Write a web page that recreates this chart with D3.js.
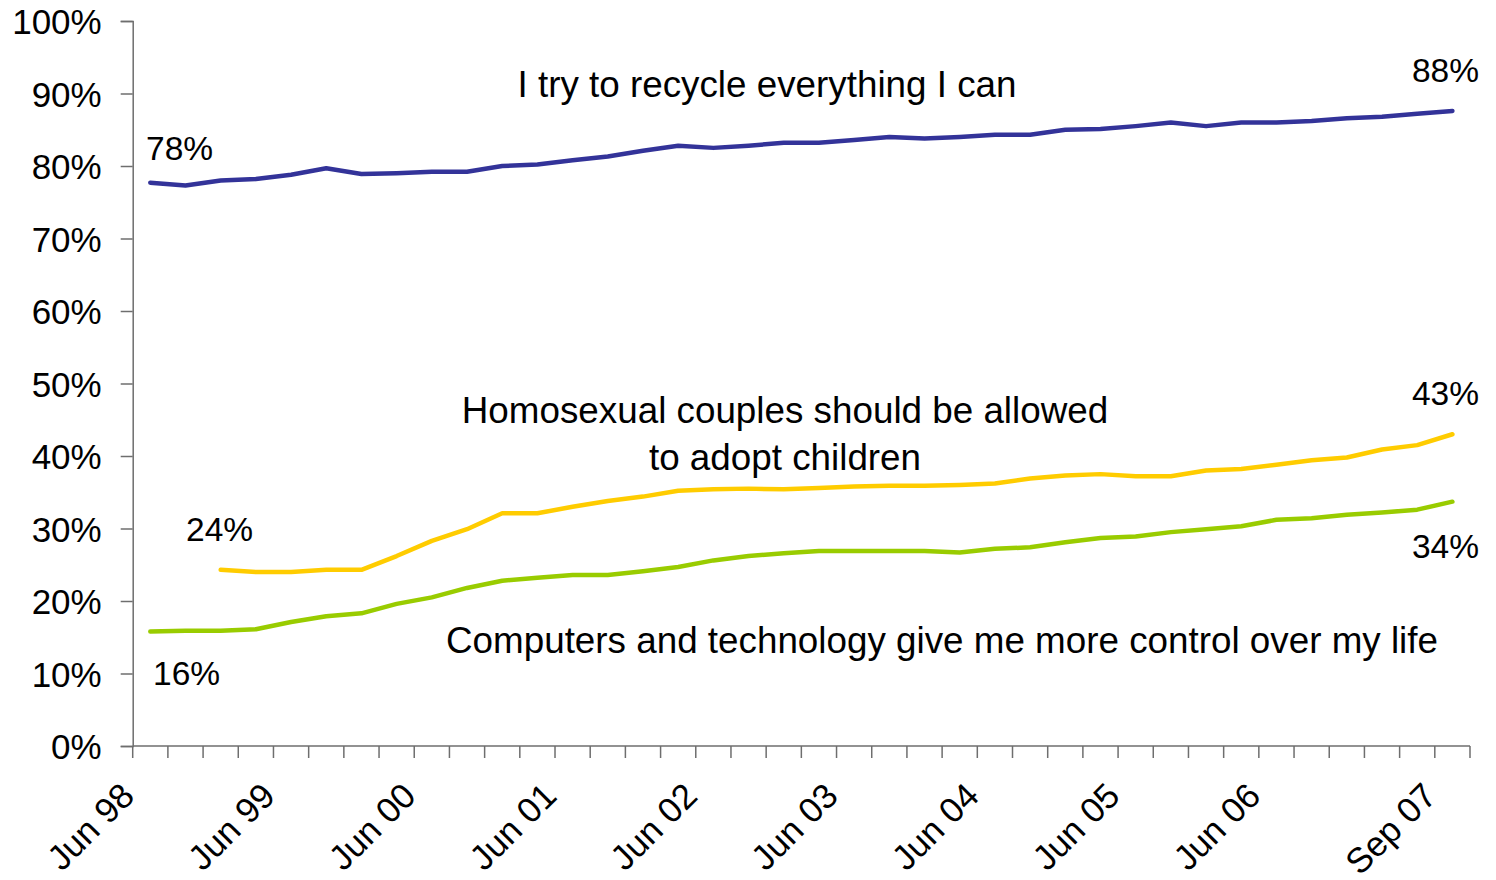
<!DOCTYPE html>
<html>
<head>
<meta charset="utf-8">
<script src="https://cdn.jsdelivr.net/npm/d3@7"></script>
<style>
  html, body { margin: 0; padding: 0; background: #fff; }
  svg { display: block; font-family: Arial, "Liberation Sans", sans-serif; }
</style>
</head>
<body>
<svg id="chart" width="1496" height="880"></svg>
<script>
// ---- data ----
const categories = [
  "Jun 98","Sep 98","Dec 98","Mar 99","Jun 99","Sep 99","Dec 99","Mar 00",
  "Jun 00","Sep 00","Dec 00","Mar 01","Jun 01","Sep 01","Dec 01","Mar 02",
  "Jun 02","Sep 02","Dec 02","Mar 03","Jun 03","Sep 03","Dec 03","Mar 04",
  "Jun 04","Sep 04","Dec 04","Mar 05","Jun 05","Sep 05","Dec 05","Mar 06",
  "Jun 06","Sep 06","Dec 06","Mar 07","Jun 07","Sep 07"
];
const tickLabels = ["Jun 98","Jun 99","Jun 00","Jun 01","Jun 02","Jun 03","Jun 04","Jun 05","Jun 06","Sep 07"];
const yTicks = [0,10,20,30,40,50,60,70,80,90,100];

const recycle = [77.7,77.3,78.0,78.2,78.8,79.7,78.9,79.0,79.2,79.2,80.0,80.2,80.8,81.3,82.1,82.8,82.5,82.8,83.2,83.2,
                 83.6,84.0,83.8,84.0,84.3,84.3,85.0,85.1,85.5,86.0,85.5,86.0,86.0,86.2,86.6,86.8,87.2,87.6];
const adopt = [null,null,24.3,24.0,24.0,24.3,24.3,26.2,28.3,29.9,32.1,32.1,33.0,33.8,34.4,35.2,35.4,35.5,35.4,35.6,
               35.8,35.9,35.9,36.0,36.2,36.9,37.3,37.5,37.2,37.2,38.0,38.2,38.8,39.4,39.8,40.9,41.5,43.0];
const computers = [15.8,15.9,15.9,16.1,17.1,17.9,18.3,19.6,20.5,21.8,22.8,23.2,23.6,23.6,24.1,24.7,25.6,26.2,26.6,26.9,
                   26.9,26.9,26.9,26.7,27.2,27.4,28.1,28.7,28.9,29.5,29.9,30.3,31.2,31.4,31.9,32.2,32.6,33.7];

const seriesNames = ["I try to recycle everything I can", "Homosexual couples should be allowed|to adopt children", "Computers and technology give me more control over my life"];
const seriesColors = ["#333399", "#FFCC00", "#99CC00"];
const startLabels = ["78%", "24%", "16%"];
const endLabels = ["88%", "43%", "34%"];

// ---- layout ----
const svg = d3.select("#chart");
const mLeft = 132.7, mRight = 1470, mTop = 21, mBottom = 746;
const x = d3.scaleBand().domain(categories).range([mLeft, mRight]).padding(0);
const y = d3.scaleLinear().domain([0, 100]).range([mBottom, mTop]);
const axisColor = "#6e6e6e";

// y axis
const yAxis = svg.append("g").attr("transform", `translate(${mLeft},0)`)
  .call(d3.axisLeft(y).tickValues(yTicks).tickSize(12).tickFormat(d => d + "%"));
yAxis.select(".domain").attr("stroke", axisColor).attr("stroke-width", 1.5);
yAxis.selectAll(".tick line").attr("stroke", axisColor).attr("stroke-width", 1.5);
yAxis.selectAll(".tick text").attr("font-size", 35).attr("fill", "#000")
  .attr("font-family", "Arial, 'Liberation Sans', sans-serif").attr("x", -31).attr("dy", "0.37em");

// x axis: ticks at band boundaries
const xg = svg.append("g");
xg.append("line").attr("x1", mLeft).attr("x2", mRight).attr("y1", mBottom).attr("y2", mBottom)
  .attr("stroke", axisColor).attr("stroke-width", 1.5);
const boundaries = categories.map(c => x(c)).concat([x(categories[categories.length - 1]) + x.bandwidth()]);
xg.selectAll("line.tk").data(boundaries).enter().append("line").attr("class", "tk")
  .attr("x1", d => d).attr("x2", d => d).attr("y1", mBottom).attr("y2", mBottom + 12)
  .attr("stroke", axisColor).attr("stroke-width", 1.5);
xg.selectAll("text.xl").data(tickLabels).enter().append("text").attr("class", "xl")
  .attr("transform", d => `translate(${x(d) + x.bandwidth() / 2 - 14},${mBottom + 52}) rotate(-45)`)
  .attr("text-anchor", "end").attr("font-size", 35).attr("fill", "#000").text(d => d);

// lines
const cx = c => x(c) + x.bandwidth() / 2;
const line = d3.line().defined(d => d.v != null).x(d => cx(d.c)).y(d => y(d.v));
[recycle, adopt, computers].forEach((vals, i) => {
  const pts = vals.map((v, j) => ({ c: categories[j], v }));
  svg.append("path").datum(pts).attr("d", line).attr("fill", "none")
    .attr("stroke", seriesColors[i]).attr("stroke-width", 4.5)
    .attr("stroke-linejoin", "round").attr("stroke-linecap", "round");
});

// series annotations
const ann = svg.append("g").attr("font-size", 36.8).attr("fill", "#000").attr("text-anchor", "middle");
ann.append("text").attr("x", 767).attr("y", 97).text(seriesNames[0]);
const adoptLines = seriesNames[1].split("|");
ann.append("text").attr("x", 785).attr("y", 423).text(adoptLines[0]);
ann.append("text").attr("x", 785).attr("y", 470).text(adoptLines[1]);
ann.append("text").attr("x", 942).attr("y", 653).text(seriesNames[2]);

// value labels
const vl = svg.append("g").attr("font-size", 33.5).attr("fill", "#000");
vl.append("text").attr("x", 146).attr("y", 160).text(startLabels[0]);
vl.append("text").attr("x", 186).attr("y", 541).text(startLabels[1]);
vl.append("text").attr("x", 153).attr("y", 685).text(startLabels[2]);
vl.append("text").attr("x", 1479).attr("y", 82).attr("text-anchor", "end").text(endLabels[0]);
vl.append("text").attr("x", 1479).attr("y", 405).attr("text-anchor", "end").text(endLabels[1]);
vl.append("text").attr("x", 1479).attr("y", 558).attr("text-anchor", "end").text(endLabels[2]);
</script>
</body>
</html>
